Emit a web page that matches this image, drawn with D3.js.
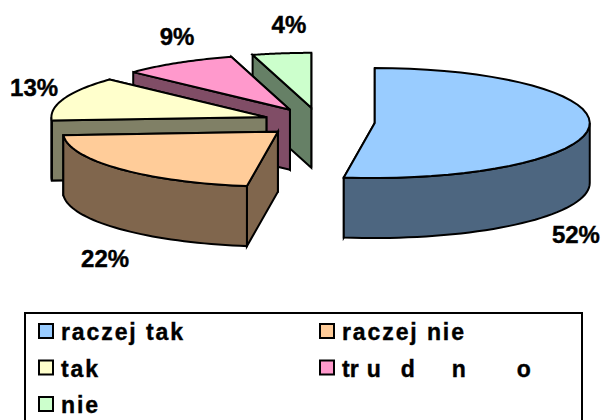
<!DOCTYPE html>
<html>
    <head>
        <meta charset="utf-8"/>
        <script src="https://d3js.org/d3.v7.min.js"></script>
        <style>
            html, body { margin: 0; padding: 0; background: #fff; overflow: hidden; }
            text { font-family: "Liberation Sans", Arial, sans-serif; font-weight: bold; fill: #000; stroke: #000; stroke-width: 0.4px; }
        </style>
    </head>
    <body>
        <div id="chart"></div>
        <script>

            var categories = ["raczej tak", "raczej nie", "tak", "trudno", "nie"];
            var values = [52.3, 21.7, 13, 8.6, 4.4];
            var colors = ["#99ccff", "#ffcc99", "#ffffcc", "#ff99cc", "#ccffcc"];
            // where each percent label sits, in pie units from the pie centre
            var labelX = [1.195, -0.995, -1.325, -0.66, -0.14];
            var labelY = [-2.2, -2.63, 0.47, 1.4, 1.62];

            var width = 601, height = 420;
            var cx = 319, cy = 122, rx = 215, ry = 55, depth = 60, explode = 0.26;

            var x = d3.scaleLinear().domain([-1, 1]).range([cx - rx, cx + rx]);
            var y = d3.scaleLinear().domain([-1, 1]).range([cy + ry, cy - ry]);

            var svg = d3.select("#chart").append("svg")
                .attr("width", width).attr("height", height)
                .style("display", "block");

            var line = d3.line().x(function(p) { return x(p[0]); }).y(function(p) { return y(p[1]); });
            var pct = d3.format(".0f");

            var arcs = d3.pie().sort(null)(values);

            // point on the rim of a slice, pushed out along its middle angle
            function rim(a, r, mid) {
                return [explode * Math.sin(mid) + r * Math.sin(a), explode * Math.cos(mid) + r * Math.cos(a)];
            }
            function sample(a0, a1, mid) {
                return d3.range(0, 41).map(function(i) {
                    return rim(a0 + (a1 - a0) * i / 40, 1, mid);
                });
            }
            function face(pts) {
                // same outline dropped by the pie depth
                return line(pts) + "L" + pts.slice().reverse().map(function(p) {
                    return x(p[0]) + "," + (y(p[1]) + depth);
                }).join("L") + "Z";
            }

            var g = svg.append("g")
                .attr("stroke", "#000").attr("stroke-width", 2).attr("stroke-linejoin", "miter");

            // back slices first, so the order is reversed
            d3.range(arcs.length - 1, -1, -1).forEach(function(i) {
                var d = arcs[i], mid = (d.startAngle + d.endAngle) / 2;
                var c = d3.rgb(colors[i]);
                var dark = d3.rgb(c.r / 2, c.g / 2, c.b / 2).formatHex();
                var center = rim(0, 0, mid);

                g.append("path").attr("fill", dark)
                    .attr("d", face([center, rim(d.endAngle, 1, mid)]));
                g.append("path").attr("fill", dark)
                    .attr("d", face([center, rim(d.startAngle, 1, mid)]));

                var from = Math.max(d.startAngle, Math.PI / 2);
                var to = Math.min(d.endAngle, 3 * Math.PI / 2);
                if (to > from) {
                    g.append("path").attr("fill", dark).attr("d", face(sample(from, to, mid)));
                }

                g.append("path").attr("fill", colors[i])
                    .attr("d", line([center].concat(sample(d.startAngle, d.endAngle, mid))) + "Z");
            });

            svg.selectAll("text.pct").data(values).enter().append("text")
                .attr("class", "pct")
                .attr("x", function(d, i) { return x(labelX[i]); })
                .attr("y", function(d, i) { return y(labelY[i]); })
                .attr("text-anchor", "middle")
                .attr("font-size", 24)
                .text(function(d) { return pct(d) + "%"; });

            // legend, its bottom edge runs off the page
            svg.append("rect")
                .attr("x", 25).attr("y", 313).attr("width", 557).attr("height", 120)
                .attr("fill", "#fff").attr("stroke", "#000").attr("stroke-width", 2);

            var colX = d3.scaleOrdinal().domain([0, 1]).range([39, 320]);
            var rowY = d3.scaleLinear().domain([0, 2]).range([332, 405]);

            var item = svg.selectAll("g.item").data(categories).enter().append("g")
                .attr("class", "item")
                .attr("transform", function(d, i) {
                    return "translate(" + colX(i % 2) + "," + rowY(Math.floor(i / 2)) + ")";
                });

            item.append("rect")
                .attr("x", 0).attr("y", -8).attr("width", 14).attr("height", 14)
                .attr("fill", function(d, i) { return colors[i]; })
                .attr("stroke", "#000").attr("stroke-width", 2);

            item.append("text")
                .attr("x", 22).attr("y", 8)
                .attr("font-size", 23)
                .attr("letter-spacing", function(d) { return d === "trudno" ? 0 : 1.9; })
                .attr("dx", function(d) { return d === "trudno" ? "0 0 8 20 37 51" : null; })
                .text(function(d) { return d; });

        </script>
    </body>
</html>
